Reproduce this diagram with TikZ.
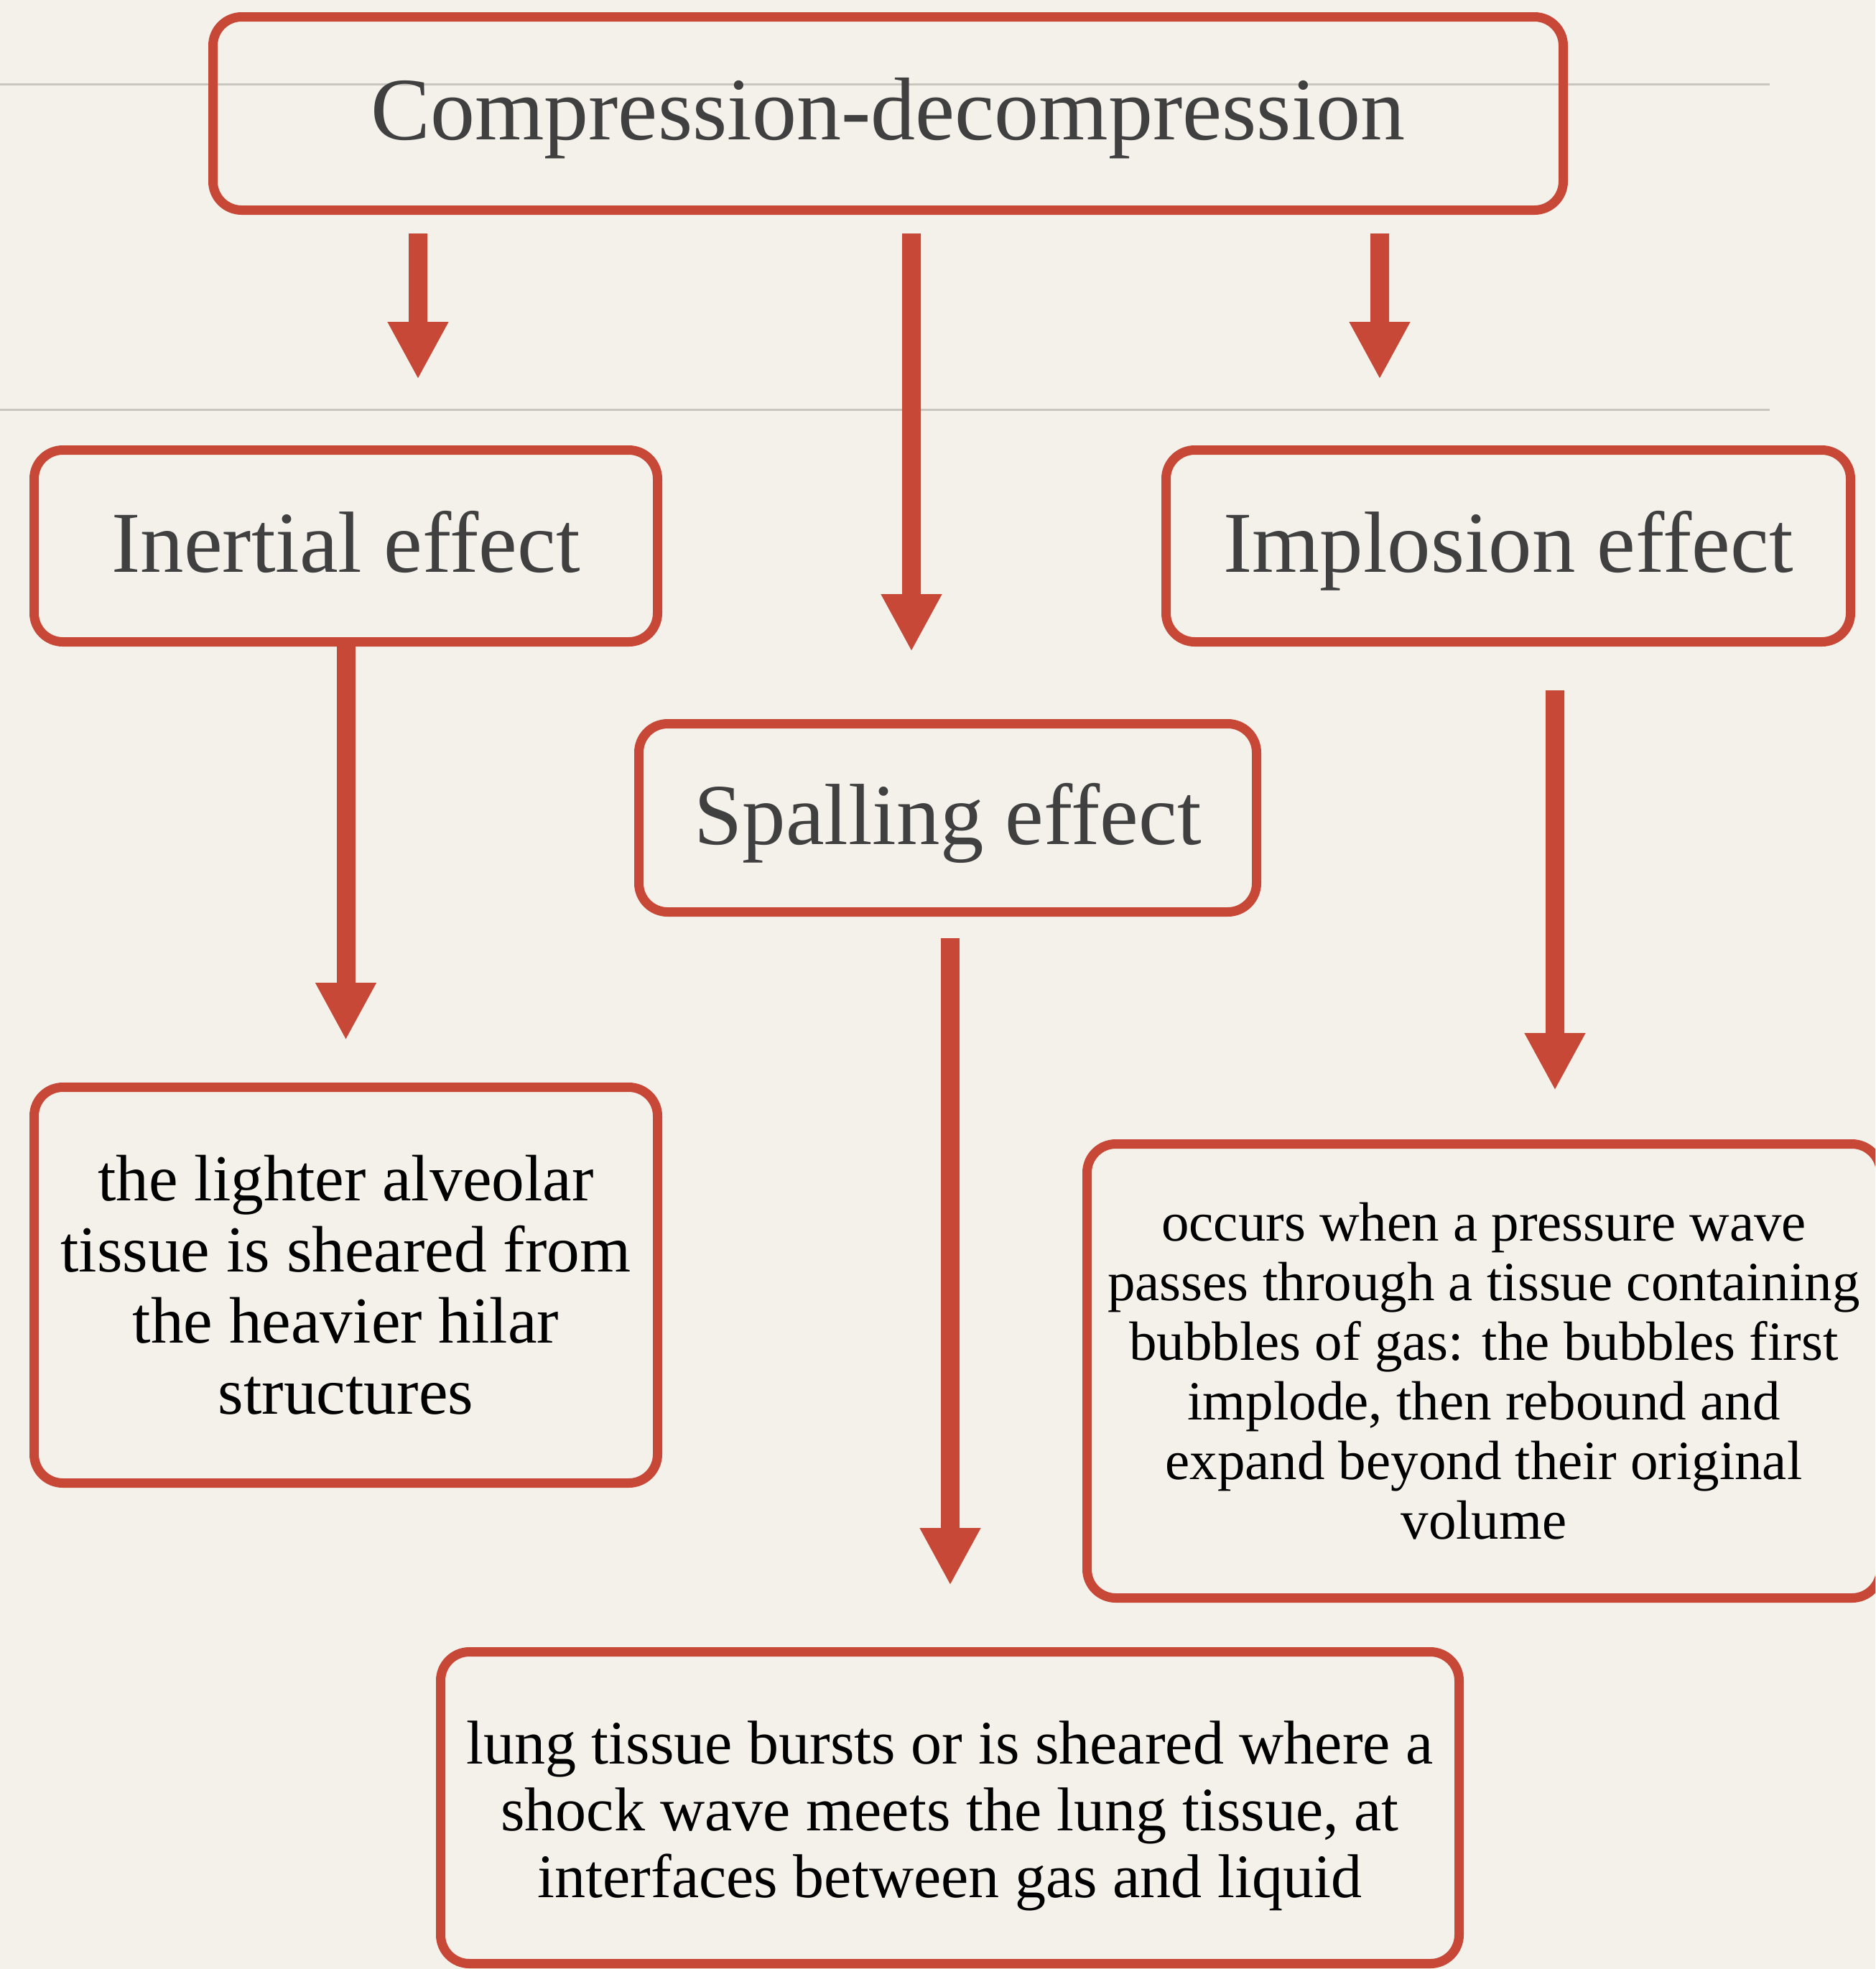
\documentclass[tikz,border=0pt]{standalone}
\usepackage{fontspec}
\setmainfont{Liberation Serif}
\usepackage{xcolor}
\usetikzlibrary{arrows.meta}
\definecolor{paper}{HTML}{F4F1EB}
\definecolor{brick}{HTML}{C84837}
\definecolor{ink}{HTML}{404040}
\definecolor{rulegrey}{HTML}{C9C6C0}
\tikzset{
  box/.style={draw=brick, line width=0.13cm, rounded corners=0.4cm, outer sep=0pt, inner sep=0pt},
  head/.style={box, text=ink, font=\fontsize{34.4}{41}\selectfont, text height=1.03cm, text depth=0.3cm},
  desc/.style={box, text=black, align=center},
  flow/.style={draw=brick, line width=0.26cm, -{Triangle[length=0.8cm, width=0.79cm]}},
  hrule/.style={draw=rulegrey, line width=0.03cm},
}
\begin{document}
\begin{tikzpicture}
  \useasboundingbox (0,0) rectangle (26.11,-27.41);
  \clip (0,0) rectangle (26.11,-27.41);
  \fill[paper] (0,0) rectangle (26.11,-27.41);
  \draw[hrule] (0,-1.17) -- (24.64,-1.17);
  \draw[hrule] (0,-5.70) -- (24.64,-5.70);

  \node[head, minimum width=18.8cm, minimum height=2.69cm, font=\fontsize{35.3}{42}\selectfont] (comp) at (12.365,-1.58) {Compression-decompression};
  \node[head, minimum width=8.68cm, minimum height=2.67cm] (inertial) at (4.815,-7.60) {Inertial effect};
  \node[head, minimum width=9.53cm, minimum height=2.67cm] (implosion) at (21.00,-7.60) {Implosion effect};
  \node[head, minimum width=8.60cm, minimum height=2.62cm] (spalling) at (13.195,-11.385) {Spalling effect};

  \node[desc, minimum width=8.68cm, minimum height=5.51cm, font=\fontsize{26}{28.2}\selectfont] (inertialtxt) at (4.815,-17.89)
    {the lighter alveolar\\tissue is sheared from\\the heavier hilar\\structures};
  \node[desc, minimum width=11.05cm, minimum height=6.32cm, font=\fontsize{21.9}{23.6}\selectfont] (implosiontxt) at (20.66,-19.085)
    {occurs when a pressure wave\\passes through a tissue containing\\bubbles of gas: the bubbles first\\implode, then rebound and\\expand beyond their original\\volume};
  \node[desc, minimum width=14.18cm, minimum height=4.34cm, font=\fontsize{24.5}{26.5}\selectfont] (spallingtxt) at (13.225,-25.165)
    {\rule{0pt}{0.83cm}lung tissue bursts or is sheared where a\\shock wave meets the lung tissue, at\\interfaces between gas and liquid};

  \draw[flow] ([shift={(-6.545,-0.325)}]comp.south) -- ([shift={(1.005,0.985)}]inertial.north);
  \draw[flow] ([shift={(0.325,-0.325)}]comp.south) -- ([shift={(-0.505,1.005)}]spalling.north);
  \draw[flow] ([shift={(6.845,-0.325)}]comp.south) -- ([shift={(-1.79,0.985)}]implosion.north);
  \draw[flow] ([yshift=0.065cm]inertial.south) -- ([yshift=0.655cm]inertialtxt.north);
  \draw[flow] ([shift={(0.035,-0.365)}]spalling.south) -- ([shift={(0.005,0.925)}]spallingtxt.north);
  \draw[flow] ([shift={(0.65,-0.675)}]implosion.south) -- ([shift={(0.99,0.745)}]implosiontxt.north);
\end{tikzpicture}
\end{document}
